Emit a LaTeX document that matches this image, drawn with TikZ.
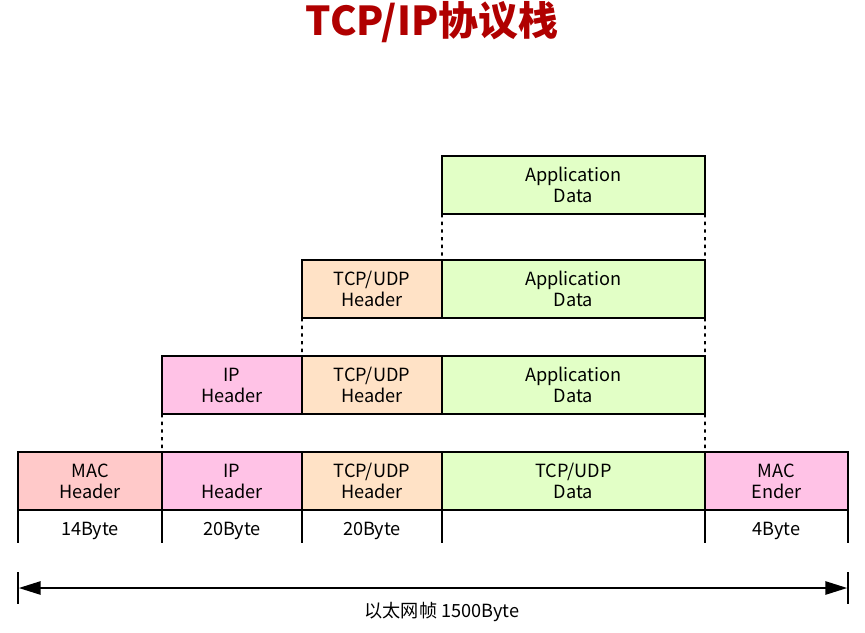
\documentclass[tikz,border=0pt]{standalone}
\usepackage{fontspec}
\setmainfont{Noto Sans CJK SC}
\usetikzlibrary{positioning,arrows.meta,calc}
\usepackage{xcolor}
\definecolor{macred}{HTML}{FFC9C9}
\definecolor{ippink}{HTML}{FFC2E6}
\definecolor{tcporange}{HTML}{FFE2C6}
\definecolor{appgreen}{HTML}{E2FFC6}
\definecolor{titlered}{HTML}{B00000}

\begin{document}
\begin{tikzpicture}[x=0.3mm,y=-0.3mm,font=\fontsize{15.5}{18}\selectfont,
  pkt/.style={draw,line width=2pt,inner sep=0pt,outer sep=0pt,
    minimum height=17.4mm,align=center},
  hdr/.style={pkt,minimum width=42mm},
  dat/.style={pkt,minimum width=78.9mm,fill=appgreen},
  dots/.style={line width=1.5pt,dash pattern=on 1mm off 1.3mm},
  tick/.style={line width=1.5pt},
  lbl/.style={inner sep=0pt}]
\useasboundingbox (0,0) rectangle (865,632);
\node[font=\fontsize{34}{40}\selectfont\bfseries,text=titlered] (title) at (432,22) {TCP/IP协议栈};
% application layer
\node[dat,anchor=north west] (app1) at (442,156) {Application\\Data};
% transport layer
\node[hdr,fill=tcporange,anchor=north west] (tcp2) at (302,260) {TCP/UDP\\Header};
\node[dat,right=0pt of tcp2] (app2) {Application\\Data};
% network layer
\node[hdr,fill=ippink,anchor=north west] (ip3) at (162,356) {IP\\Header};
\node[hdr,fill=tcporange,right=0pt of ip3] (tcp3) {TCP/UDP\\Header};
\node[dat,right=0pt of tcp3] (app3) {Application\\Data};
% link layer
\node[pkt,minimum width=43.2mm,fill=macred,anchor=north west] (mac) at (18,452) {MAC\\Header};
\node[hdr,fill=ippink,right=0pt of mac] (ip4) {IP\\Header};
\node[hdr,fill=tcporange,right=0pt of ip4] (tcp4) {TCP/UDP\\Header};
\node[dat,right=0pt of tcp4] (data4) {TCP/UDP\\Data};
\node[pkt,minimum width=42.9mm,fill=ippink,right=0pt of data4] (end4) {MAC\\Ender};
% dotted guides
\draw[dots] (app1.south west) -- (app2.north west);
\draw[dots] (app1.south east) -- (app2.north east);
\draw[dots] (tcp2.south west) -- (tcp3.north west);
\draw[dots] (app2.south east) -- (app3.north east);
\draw[dots] (ip3.south west) -- (ip4.north west);
\draw[dots] (app3.south east) -- (data4.north east);
% size ticks
\foreach \n in {mac,ip4,tcp4,data4,end4}
  \draw[tick] (\n.south west) -- ++(0,33);
\draw[tick] (end4.south east) -- ++(0,33);
\node[lbl] (b14) at ($(mac.south)+(0,21)$) {14Byte};
\node[lbl] (b20a) at ($(ip4.south)+(0,21)$) {20Byte};
\node[lbl] (b20b) at ($(tcp4.south)+(0,21)$) {20Byte};
\node[lbl] (b4) at ($(end4.south)+(0,21)$) {4Byte};
% frame length
\coordinate (fl) at (18,588);
\coordinate (fr) at (848,588);
\draw[tick] (fl) ++(0,-16) -- ++(0,32);
\draw[tick] (fr) ++(0,-16) -- ++(0,32);
\draw[{Triangle[length=6.5mm,width=4mm]}-{Triangle[length=6.5mm,width=4mm]},line width=1.2pt,shorten <=0.75pt,shorten >=0.75pt] (fl) -- (fr);
\node[lbl] (frame) at (442,612) {以太网帧 1500Byte};
\end{tikzpicture}
\end{document}
